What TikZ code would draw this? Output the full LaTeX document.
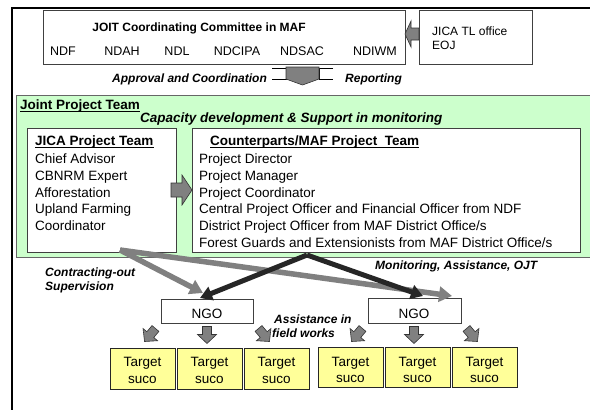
\documentclass[tikz,border=0pt]{standalone}
\usepackage{fontspec}
\setmainfont{Liberation Sans}
\usetikzlibrary{arrows.meta}
\definecolor{jgreen}{HTML}{CCFFCC}
\definecolor{jyellow}{HTML}{FFFF99}
\definecolor{arrgray}{HTML}{808080}
\definecolor{arrdark}{HTML}{262626}
\begin{document}
\begin{tikzpicture}[x=1pt,y=-1pt,
  t/.style={inner sep=0pt, anchor=base west, font=\fontsize{13.5}{16}\selectfont},
  tb/.style={inner sep=0pt, anchor=base west, font=\fontsize{13.5}{16}\selectfont\bfseries},
  tc/.style={inner sep=0pt, anchor=base, font=\fontsize{12.5}{15}\selectfont},
  tcl/.style={inner sep=0pt, anchor=base, font=\fontsize{13.5}{16}\selectfont},
  bi/.style={inner sep=0pt, anchor=base west, font=\fontsize{12}{14}\selectfont\bfseries\itshape},
  wbox/.style={draw=black!75, fill=white, line width=0.8pt, inner sep=0pt, anchor=north west},
  tbox/.style={draw=black!85, fill=jyellow, line width=1pt, inner sep=0pt, anchor=north west},
  garr/.style={draw=arrgray, line width=5.5pt, -{Triangle[length=13pt,width=15pt]}},
  darr/.style={draw=arrdark, line width=5pt, -{Triangle[length=12pt,width=14pt]}},
  blockarr/.style={fill=arrgray, draw=black!80, line width=0.6pt},
  smallarr/.pic={\draw[blockarr] (-4.5,-8.5) -- (4.5,-8.5) -- (4.5,-0.5) -- (9.5,-0.5) -- (0,8.5) -- (-9.5,-0.5) -- (-4.5,-0.5) -- cycle;},
  ul/.style={line width=1.2pt}
]
\useasboundingbox (0,0) rectangle (590,410);
\fill[white] (0,0) rectangle (590,410);
% outer frame
\draw[line width=2pt] (12,411) -- (12,8) -- (591,8);

% committee
\node[wbox, minimum width=362pt, minimum height=54pt] (jcc) at (43,10) {};
\node[inner sep=0pt, anchor=base, font=\fontsize{12}{14}\selectfont\bfseries] (jcct) at (199,31) {JOIT Coordinating Committee in MAF};
\node[tc] (ndf) at (63,55) {NDF};
\node[tc] (ndah) at (122,55) {NDAH};
\node[tc] (ndl) at (177,55) {NDL};
\node[tc] (ndcipa) at (237,55) {NDCIPA};
\node[tc] (ndsac) at (302,55) {NDSAC};
\node[tc] (ndiwm) at (375,55) {NDIWM};

% JICA TL office
\node[wbox, minimum width=113pt, minimum height=54pt] (tl) at (419,10) {};
\node[inner sep=0pt, anchor=base west, font=\fontsize{12}{14}\selectfont] (tl1) at (432,35) {JICA TL office};
\node[inner sep=0pt, anchor=base west, font=\fontsize{12}{14}\selectfont] (tl2) at (432,49) {EOJ};
\draw[blockarr] (419,28) -- (411,28) -- (411,21) -- (405,34) -- (411,47) -- (411,40) -- (419,40) -- cycle;

% approval / reporting
\node[bi] (appr) at (112,82) {Approval and Coordination};
\node[bi] (rep) at (345,82) {Reporting};
\draw[line width=0.7pt] (272,68) -- (286,68) -- (286,79) -- (272,79);
\draw[line width=0.7pt] (333,68) -- (319,68) -- (319,79) -- (333,79);
\draw[blockarr] (286,67) -- (319,67) -- (319,79) -- (302.5,85) -- (286,79) -- cycle;

% joint project team
\node[draw=black!60, fill=jgreen, line width=1pt, inner sep=0pt, anchor=north west, minimum width=590pt, minimum height=162pt] (jpt) at (16,95) {};
\node[tb] (jptt) at (20,109) {Joint Project Team};
\draw[ul] ([yshift=-2.5pt]jptt.base west) -- ([yshift=-2.5pt]jptt.base east);
\node[inner sep=0pt, anchor=base west, font=\fontsize{13.5}{16}\selectfont\bfseries\itshape] (cap) at (140,122) {Capacity development \& Support in monitoring};

% JICA project team
\node[wbox, minimum width=149pt, minimum height=124pt] (jica) at (27,128) {};
\node[tb] (jicat) at (35,145) {JICA Project Team};
\draw[ul] ([yshift=-2.5pt]jicat.base west) -- ([yshift=-2.5pt]jicat.base east);
\node[t] (j1) at (35,163) {Chief Advisor};
\node[t] (j2) at (35,180) {CBNRM Expert};
\node[t] (j3) at (35,197) {Afforestation};
\node[t] (j4) at (35,213) {Upland Farming};
\node[t] (j5) at (35,230) {Coordinator};

% counterparts
\node[wbox, minimum width=388pt, minimum height=124pt] (cp) at (192,128) {};
\node[tb] (cpt) at (210,145) {Counterparts/MAF Project\ \ Team};
\draw[ul] ([yshift=-2.5pt]cpt.base west) -- ([yshift=-2.5pt]cpt.base east);
\node[t] (c1) at (199,163) {Project Director};
\node[t] (c2) at (199,180) {Project Manager};
\node[t] (c3) at (199,197) {Project Coordinator};
\node[t] (c4) at (199,213) {Central Project Officer and Financial Officer from NDF};
\node[t] (c5) at (199,230) {District Project Officer from MAF District Office/s};
\node[t] (c6) at (199,247) {Forest Guards and Extensionists from MAF District Office/s};

% arrow between teams
\draw[blockarr] (171,183) -- (182,183) -- (182,175) -- (192,190) -- (182,205) -- (182,197) -- (171,197) -- cycle;

% NGO boxes
\node[wbox, minimum width=92pt, minimum height=24pt] (ngoL) at (161,299) {};
\node[tcl] (ngoLt) at (207,318) {NGO};
\node[wbox, minimum width=93pt, minimum height=25pt] (ngoR) at (368,298) {};
\node[tcl] (ngoRt) at (414,318) {NGO};

% big arrows
\coordinate (gsrc) at (120,250);
\coordinate (dsrc) at (307,255);
\coordinate (gL) at (203,293);
\coordinate (gR) at (452,296);
\coordinate (dL) at (200,298);
\coordinate (dR) at (423,296);
\draw[garr] (gsrc) -- (gL);
\draw[garr] (gsrc) -- (gR);
\draw[darr] (dsrc) -- (dL);
\draw[darr] (dsrc) -- (dR);

\node[bi] (co1) at (45,276) {Contracting-out};
\node[bi] (co2) at (45,290) {Supervision};
\node[bi] (mon) at (375,269) {Monitoring, Assistance, OJT};
\node[bi] (as1) at (274,323) {Assistance in};
\node[bi] (as2) at (272,337) {field works};

% small arrows
\pic[rotate=-40] at (150,335) {smallarr};
\pic at (207,335) {smallarr};
\pic[rotate=40] at (264,335) {smallarr};
\pic[rotate=-40] at (357,335) {smallarr};
\pic at (414,335) {smallarr};
\pic[rotate=40] at (472,335) {smallarr};

% target sucos
\foreach \x/\n in {110/a,177/b,244/c}{
  \node[tbox, minimum width=65pt, minimum height=41pt] (t\n) at (\x,348) {};
  \node[tcl] at (\x+32.5,366) {Target};
  \node[tcl] at (\x+32.5,383) {suco};
}
\foreach \x/\n in {318/d,385/e,452/f}{
  \node[tbox, minimum width=65pt, minimum height=40pt] (t\n) at (\x,347) {};
  \node[tcl] at (\x+32.5,366) {Target};
  \node[tcl] at (\x+32.5,382) {suco};
}
\end{tikzpicture}
\end{document}
